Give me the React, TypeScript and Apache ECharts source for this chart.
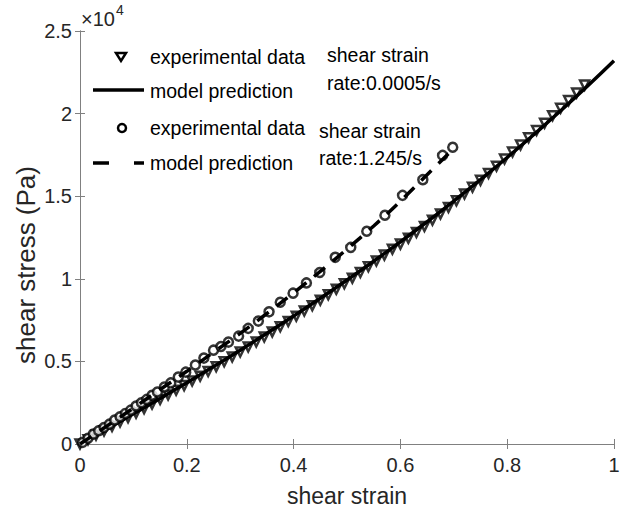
import React, { useEffect, useRef } from "react";
import * as echarts from "echarts";

// shear strain rate 0.0005/s — experimental data (strain, stress Pa)
const triStrain = [
  0, 0.015, 0.03, 0.045, 0.06, 0.075, 0.09, 0.105, 0.12, 0.135, 0.15, 0.165, 0.18, 0.195, 0.21, 0.225,
  0.24, 0.255, 0.27, 0.285, 0.3, 0.315, 0.33, 0.345, 0.36, 0.375, 0.39, 0.405, 0.42, 0.435, 0.45, 0.465,
  0.48, 0.495, 0.51, 0.525, 0.54, 0.555, 0.57, 0.585, 0.6, 0.615, 0.63, 0.645, 0.66, 0.675, 0.69, 0.705,
  0.72, 0.735, 0.75, 0.765, 0.78, 0.795, 0.81, 0.825, 0.84, 0.855, 0.87, 0.885, 0.9, 0.915, 0.93, 0.945,
];
const triStress = [
  0, 263, 527, 793, 1060, 1328, 1598, 1869, 2142, 2417, 2693, 2971, 3251, 3534, 3818, 4104,
  4392, 4683, 4976, 5272, 5570, 5870, 6173, 6479, 6787, 7099, 7413, 7730, 8050, 8374, 8700, 9030,
  9363, 9700, 10040, 10383, 10730, 11081, 11435, 11794, 12100, 12450, 12800, 13170, 13550, 13930, 14320, 14720,
  15130, 15540, 15960, 16380, 16810, 17251, 17675, 18104, 18538, 18978, 19422, 19871, 20327, 20787, 21253, 21724,
];

// shear strain rate 0.0005/s — model prediction
const modelAStrain = [0, 0.05, 0.1, 0.15, 0.2, 0.25, 0.3, 0.35, 0.4, 0.45, 0.5, 0.55, 0.6, 0.65, 0.7, 0.75, 0.8, 0.85, 0.9, 0.95, 1.0];
const modelAStress = [0, 906, 1825, 2760, 3712, 4684, 5679, 6698, 7744, 8819, 9925, 11065, 12240, 13453, 14707, 16003, 17344, 18732, 20169, 21658, 23200];

// shear strain rate 1.245/s — experimental data
const circStrain = [
  0.005, 0.015, 0.025, 0.035, 0.045, 0.055, 0.065, 0.075, 0.085, 0.095, 0.105, 0.115, 0.125, 0.135, 0.145,
  0.158, 0.17, 0.184, 0.198, 0.216, 0.232, 0.25, 0.264, 0.278, 0.297, 0.315, 0.334, 0.354, 0.375, 0.399,
  0.424, 0.449, 0.478, 0.507, 0.537, 0.571, 0.604, 0.642, 0.679, 0.698,
];
const circStress = [
  100, 350, 600, 800, 1000, 1200, 1450, 1650, 1850, 2050, 2300, 2500, 2700, 2950, 3150,
  3450, 3700, 4050, 4350, 4780, 5200, 5680, 5900, 6170, 6530, 7000, 7440, 8000, 8580, 9130,
  9750, 10380, 11300, 11900, 12880, 13850, 15050, 16000, 17470, 17960,
];

// shear strain rate 1.245/s — model prediction
const modelBStrain = [0, 0.05, 0.1, 0.15, 0.2, 0.25, 0.3, 0.35, 0.4, 0.45, 0.5, 0.55, 0.6, 0.65, 0.7];
const modelBStress = [0, 1080, 2180, 3300, 4400, 5550, 6700, 7900, 9150, 10450, 11800, 13200, 14700, 16300, 17900];

const xTicks = [0, 0.2, 0.4, 0.6, 0.8, 1];
const yTicks = [0, 5000, 10000, 15000, 20000, 25000];

const xTitle = "shear strain";
const yTitle = "shear stress (Pa)";
const legendRows = ["experimental data", "model prediction", "experimental data", "model prediction"];
const notes = ["shear strain", "rate:0.0005/s", "shear strain", "rate:1.245/s"];

const FONT = "'Liberation Sans', Arial, sans-serif";
const AXIS_COLOR = "#808080";
const TEXT_COLOR = "#262626";

function zip(a: number[], b: number[]) {
  return a.map((v, i) => [v, b[i]]);
}

export default function App() {
  const ref = useRef<HTMLDivElement>(null);
  useEffect(() => {
    if (!ref.current) return;
    const chart = echarts.init(ref.current, null, { renderer: "svg" });
    const axisCommon = {
      axisLine: { show: true, lineStyle: { color: AXIS_COLOR, width: 1 } },
      axisTick: { show: true, inside: true, length: 5, lineStyle: { color: AXIS_COLOR } },
      splitLine: { show: false },
    };
    const textBase = { fontFamily: FONT, fill: "#000", fontSize: 19.5, verticalAlign: "middle", align: "left" };
    chart.setOption({
      animation: false,
      backgroundColor: "#fff",
      grid: { left: 80, right: 21, top: 31, bottom: 70 },
      xAxis: [
        {
          type: "value", min: xTicks[0], max: xTicks[xTicks.length - 1], interval: 0.2, position: "bottom",
          ...axisCommon,
          axisLabel: { color: TEXT_COLOR, fontSize: 20, fontFamily: FONT, margin: 11 },
          name: xTitle, nameLocation: "middle", nameGap: 40,
          nameTextStyle: { color: TEXT_COLOR, fontSize: 23, fontFamily: FONT },
        },
        {
          type: "value", min: 0, max: 1, interval: 0.2, position: "top",
          ...axisCommon, axisLabel: { show: false },
        },
      ],
      yAxis: [
        {
          type: "value", min: yTicks[0], max: yTicks[yTicks.length - 1], interval: 5000, position: "left",
          ...axisCommon,
          axisLabel: { color: TEXT_COLOR, fontSize: 20, fontFamily: FONT, margin: 8, formatter: (v: number) => String(v / 10000) },
        },
        {
          type: "value", min: 0, max: 25000, interval: 5000, position: "right",
          ...axisCommon, axisLabel: { show: false },
        },
      ],
      series: [
        {
          type: "scatter", data: zip(triStrain, triStress), symbol: "triangle", symbolRotate: 180, symbolSize: 9,
          itemStyle: { color: "#fff", borderColor: "#000", borderWidth: 2.5 }, z: 2,
        },
        {
          type: "line", data: zip(modelAStrain, modelAStress), smooth: true, showSymbol: false, symbol: "none",
          lineStyle: { color: "#000", width: 3.5 }, z: 3,
        },
        {
          type: "scatter", data: zip(circStrain, circStress), symbol: "circle", symbolSize: 9,
          itemStyle: { color: "#fff", borderColor: "#000", borderWidth: 2.5 }, z: 4,
        },
        {
          type: "line", data: zip(modelBStrain, modelBStress), smooth: true, showSymbol: false, symbol: "none",
          lineStyle: { color: "#000", width: 3.5, type: [14, 10] }, z: 5,
        },
      ],
      graphic: [
        // axis title (y) and exponent
        {
          type: "text", x: 26, y: 265, rotation: Math.PI / 2,
          style: { text: yTitle, fontFamily: FONT, fontSize: 26, fill: TEXT_COLOR, align: "center", verticalAlign: "middle" },
        },
        { type: "text", x: 81, y: 19, style: { ...textBase, fill: TEXT_COLOR, text: "×10", fontSize: 20 } },
        { type: "text", x: 116, y: 10, style: { ...textBase, fill: TEXT_COLOR, text: "4", fontSize: 14 } },
        // legend markers
        { type: "polygon", shape: { points: [[116, 53], [126, 53], [121, 61]] }, style: { fill: "#fff", stroke: "#000", lineWidth: 2.5 } },
        { type: "line", shape: { x1: 93, y1: 90, x2: 144, y2: 90 }, style: { stroke: "#000", lineWidth: 3.5 } },
        { type: "circle", shape: { cx: 122, cy: 128, r: 4 }, style: { fill: "#fff", stroke: "#000", lineWidth: 2.5 } },
        { type: "line", shape: { x1: 93, y1: 163, x2: 144, y2: 163 }, style: { stroke: "#000", lineWidth: 3.5, lineDash: [16, 25] } },
        // legend texts
        { type: "text", x: 150, y: 57, style: { ...textBase, text: legendRows[0] } },
        { type: "text", x: 150, y: 91, style: { ...textBase, text: legendRows[1] } },
        { type: "text", x: 150, y: 128, style: { ...textBase, text: legendRows[2] } },
        { type: "text", x: 150, y: 163, style: { ...textBase, text: legendRows[3] } },
        // rate notes
        { type: "text", x: 327, y: 55, style: { ...textBase, text: notes[0] } },
        { type: "text", x: 327, y: 83, style: { ...textBase, text: notes[1] } },
        { type: "text", x: 319, y: 131, style: { ...textBase, text: notes[2] } },
        { type: "text", x: 319, y: 158, style: { ...textBase, text: notes[3] } },
      ],
    });
    return () => chart.dispose();
  }, []);
  return <div ref={ref} style={{ position: "fixed", left: 0, top: 0, width: 635, height: 514 }} />;
}
